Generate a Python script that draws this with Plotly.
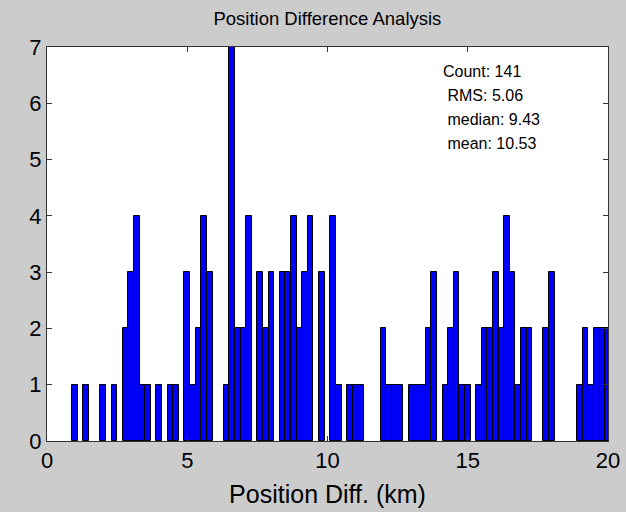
import plotly.graph_objects as go

# Bin centres (km) and counts
bin_centers = [1.0, 1.4, 2.0, 2.4, 2.8, 3.0, 3.2, 3.4, 3.6, 4.0, 4.4, 4.6,
               5.0, 5.2, 5.4, 5.6, 5.8, 6.4, 6.6, 6.8, 7.0, 7.2, 7.6, 7.8,
               8.0, 8.4, 8.6, 8.8, 9.0, 9.2, 9.4, 9.8, 10.2, 10.4, 10.8,
               11.0, 11.2, 12.0, 12.2, 12.4, 12.6, 13.0, 13.2, 13.4, 13.6,
               13.8, 14.2, 14.4, 14.6, 14.8, 15.0, 15.4, 15.6, 15.8, 16.0,
               16.2, 16.4, 16.6, 16.8, 17.0, 17.2, 17.8, 18.0, 19.0, 19.2,
               19.4, 19.6, 19.8, 20.0]
counts = [1, 1, 1, 1, 2, 3, 4, 1, 1, 1, 1, 1,
          3, 1, 2, 4, 3, 1, 7, 2, 2, 4, 3, 2,
          3, 3, 3, 4, 2, 3, 4, 3, 4, 1, 1,
          1, 1, 2, 1, 1, 1, 1, 1, 1, 2,
          3, 1, 2, 3, 1, 1, 1, 2, 2, 3,
          2, 4, 3, 1, 2, 2, 2, 3, 1, 2,
          1, 2, 2, 2]
bin_width = 0.2

stats_lines = ["Count: 141", " RMS: 5.06", " median: 9.43", " mean: 10.53"]
x_ticks = [0, 5, 10, 15, 20]
y_ticks = [0, 1, 2, 3, 4, 5, 6, 7]

FONT = "Liberation Sans, Arial, sans-serif"

fig = go.Figure()
fig.add_trace(go.Bar(
    x=bin_centers, y=counts, width=bin_width,
    marker=dict(color="#0000ff", line=dict(color="#000000", width=1)),
    showlegend=False,
))

for i, line in enumerate(stats_lines):
    fig.add_annotation(
        x=0.703, y=0.939 - i * 0.061, xref="paper", yref="paper",
        xanchor="left", yanchor="middle", align="left",
        text=line.replace(" ", "&nbsp;"),
        showarrow=False,
        font=dict(family=FONT, size=16, color="#000000"),
    )

fig.update_layout(
    width=626, height=512,
    margin=dict(l=47, r=18, t=47, b=71),
    paper_bgcolor="#cccccc",
    plot_bgcolor="#ffffff",
    bargap=0,
    font=dict(family=FONT, size=22, color="#000000"),
    title=dict(text="Position Difference Analysis", x=0.523, xanchor="center",
               y=0.964, yanchor="middle",
               font=dict(family=FONT, size=18.5, color="#000000")),
    xaxis=dict(range=[0, 20], tickvals=x_ticks, ticks="inside", ticklen=5,
               tickcolor="#333333", showline=True, linecolor="#333333",
               linewidth=1, mirror="ticks", showgrid=False, zeroline=False,
               automargin=False,
               title=dict(text="Position Diff. (km)", standoff=13,
                          font=dict(family=FONT, size=25)),
               tickfont=dict(family=FONT, size=22)),
    yaxis=dict(range=[0, 7], tickvals=y_ticks, ticks="inside", ticklen=5,
               tickcolor="#333333", showline=True, linecolor="#333333",
               linewidth=1, mirror="ticks", showgrid=False, zeroline=False,
               automargin=False,
               tickfont=dict(family=FONT, size=22)),
)

fig.write_html("out.html")
